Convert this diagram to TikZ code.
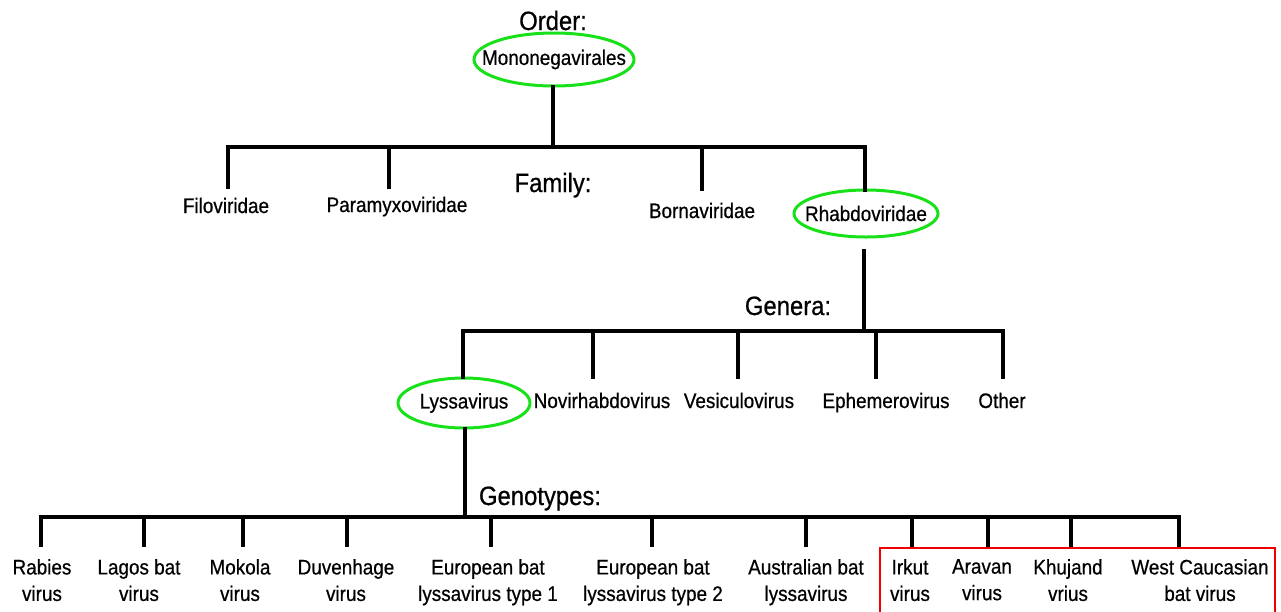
\documentclass[tikz,border=0pt]{standalone}
\usepackage{fontspec}
\setmainfont{Liberation Sans}[FakeStretch=0.9, FakeBold=0.6]
\usetikzlibrary{shapes.geometric}
\definecolor{ovalgreen}{RGB}{25,225,25}
\definecolor{boxred}{RGB}{240,0,0}
\begin{document}
\begin{tikzpicture}[x=1pt,y=-1pt,
  lbl/.style={font=\fontsize{21}{26.5}\selectfont, align=center, inner sep=0pt},
  olbl/.style={font=\fontsize{21}{26.5}\selectfont, inner sep=0pt},
  head/.style={font=\fontsize{26.5}{30}\selectfont, inner sep=0pt, anchor=base},
  oval/.style={ellipse, draw=ovalgreen, line width=3pt, inner sep=0pt},
  tree/.style={line width=4.5pt, black, line join=miter, line cap=rect}
]
\useasboundingbox[fill=white] (0,0) rectangle (1281,611);

% ---------- Order ----------
\node[head] (order) at (553,30) {Order:};
\node[oval, olbl, minimum width=160, minimum height=53] (mono) at (554,59.5) {\makebox[0pt][c]{Mononegavirales}};

% ---------- Family ----------
\node[head] (family) at (553,192) {Family:};
\node[lbl, anchor=base] (fil) at (226,213) {Filoviridae};
\node[lbl, anchor=base] (par) at (397,212) {Paramyxoviridae};
\node[lbl, anchor=base] (bor) at (702,218) {Bornaviridae};
\node[oval, olbl, minimum width=144, minimum height=47] (rha) at (866,213.5) {\makebox[0pt][c]{Rhabdoviridae}};

\coordinate (famJ) at (553,147);
\coordinate (c-fil) at (228,187);
\coordinate (c-par) at (389,187);
\coordinate (c-bor) at (702,189);
\draw[tree] (mono.south -| famJ) -- (famJ);
\draw[tree] (c-fil) |- (famJ) -| ([yshift=-1pt]rha.north -| 865,0);
\draw[tree] (c-par) -- (c-par |- famJ);
\draw[tree] (c-bor) -- (c-bor |- famJ);

% ---------- Genera ----------
\node[head] (genera) at (788,315) {Genera:};
\node[oval, olbl, minimum width=132, minimum height=50] (lys) at (464,403) {\makebox[0pt][c]{Lyssavirus}};
\node[lbl, anchor=base] (nov) at (602,408) {Novirhabdovirus};
\node[lbl, anchor=base] (ves) at (739,408) {Vesiculovirus};
\node[lbl, anchor=base] (eph) at (886,408) {Ephemerovirus};
\node[lbl, anchor=base] (oth) at (1002,408) {Other};

\coordinate (genTop) at (864,251);
\coordinate (genJ) at (864,331);
\coordinate (c-lys) at (463,377);
\coordinate (c-nov) at (593,377);
\coordinate (c-ves) at (738,377);
\coordinate (c-eph) at (876,377);
\coordinate (c-oth) at (1003,377);
\draw[tree] (genTop) -- (genJ);
\draw[tree] (c-lys) |- (genJ) -| (c-oth);
\draw[tree] (c-nov) -- (c-nov |- genJ);
\draw[tree] (c-ves) -- (c-ves |- genJ);
\draw[tree] (c-eph) -- (c-eph |- genJ);

% ---------- Genotypes ----------
\node[head] (genotypes) at (540,505) {Genotypes:};
\coordinate (gtJ) at (465,517);
\draw[tree] (lys.south -| gtJ) -- (gtJ);

\node[lbl, anchor=north] (g1)  at (42,559)   {Rabies\\virus};
\node[lbl, anchor=north] (g2)  at (139,559)  {Lagos bat\\virus};
\node[lbl, anchor=north] (g3)  at (240,559)  {Mokola\\virus};
\node[lbl, anchor=north] (g4)  at (346,559)  {Duvenhage\\virus};
\node[lbl, anchor=north] (g5)  at (488,559)  {European bat\\lyssavirus type 1};
\node[lbl, anchor=north] (g6)  at (653,559)  {European bat\\lyssavirus type 2};
\node[lbl, anchor=north] (g7)  at (806,559)  {Australian bat\\lyssavirus};
\node[lbl, anchor=north] (g8)  at (910,559)  {Irkut\\virus};
\node[lbl, anchor=north] (g9)  at (982,559)  {Aravan\\virus};
\node[lbl, anchor=north] (g10) at (1068,559) {Khujand\\vrius};
\node[lbl, anchor=north] (g11) at (1200,559) {West Caucasian\\bat virus};

\coordinate (d1)  at (41,545);
\coordinate (d2)  at (144,545);
\coordinate (d3)  at (243,545);
\coordinate (d4)  at (347,545);
\coordinate (d5)  at (491,545);
\coordinate (d6)  at (652,545);
\coordinate (d7)  at (806,545);
\coordinate (d8)  at (912,545);
\coordinate (d9)  at (988,545);
\coordinate (d10) at (1071,545);
\coordinate (d11) at (1179,545);
\draw[tree] (d1) |- (gtJ) -| (d11);
\foreach \d in {d2,d3,d4,d5,d6,d7,d8,d9,d10}{
  \draw[tree] (\d) -- (\d |- gtJ);
}

% ---------- red highlight box ----------
\draw[boxred, line width=2pt] (880,612) |- (1275,548) -- (1275,612);
\end{tikzpicture}
\end{document}
